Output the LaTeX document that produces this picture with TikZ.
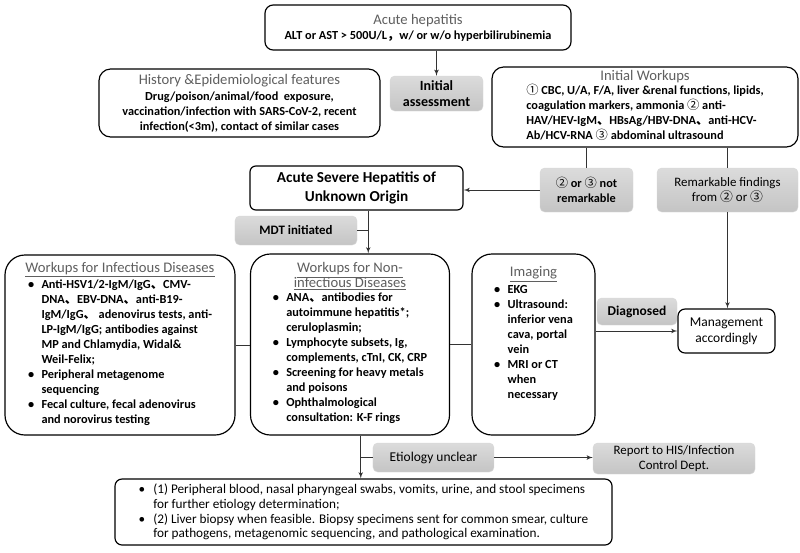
\documentclass[tikz,border=0pt]{standalone}
\usepackage{fontspec}
\setmainfont{Carlito}
\newfontfamily\cjkfont{Noto Sans CJK SC}
\usepackage{xcolor}
\usepackage{tikz}
\usetikzlibrary{shapes,arrows,positioning,calc}

\definecolor{titlegray}{HTML}{5F5F5F}
\newcommand{\titlefont}{\fontsize{12.5}{15}\selectfont\mdseries\color{titlegray}}
\newcommand{\bodyfont}{\fontsize{10.5}{12.8}\selectfont\bfseries}
\newcommand{\dun}{{\cjkfont 、}}
\newcommand{\fwc}{{\cjkfont ，}}
\newcommand{\cone}{{\cjkfont\mdseries ①}}
\newcommand{\ctwo}{{\cjkfont\mdseries ②}}
\newcommand{\cthree}{{\cjkfont\mdseries ③}}
\newcommand{\bitem}{\makebox[1.1em][l]{\textbullet}}
\newcommand{\bcont}{\hspace*{1.1em}}

\begin{document}
\begin{tikzpicture}[auto, x=0.03cm, y=-0.03cm, >=latex']
\tikzset{
frame/.style    = {draw, shape=rectangle, line width=1pt, rounded corners=7pt, fill=white, align=center, inner sep=2pt, font=\bodyfont},
panel/.style    = {frame, rounded corners=17pt},
grey/.style     = {shape=rectangle, rounded corners=4pt, draw=black!15, top color=black!14, bottom color=black!23, align=center, inner sep=2pt, font=\bodyfont},
line/.style     = {draw=black!80, line width=0.8pt},
coord/.style    = {coordinate},
}
    \useasboundingbox (0,0) rectangle (800,553);

    % Top nodes
    \node [frame, minimum width=9.18cm, minimum height=1.35cm] (acute_hep) at (418, 27.5)
        {{\titlefont Acute hepatitis}\\ ALT or AST > 500U/L\fwc w/ or w/o hyperbilirubinemia};
    \node [grey, minimum width=2.79cm, minimum height=1.05cm, font=\fontsize{12}{14}\selectfont\bfseries] (init_assess) at (436.5, 93.5) {Initial\\assessment};
    \node [frame, rounded corners=10pt, minimum width=8.43cm, minimum height=2.04cm] (history) at (239.5, 103)
        {{\titlefont History \&Epidemiological features}\\[1pt]
         Drug/poison/animal/food\ \ exposure,\\
         vaccination/infection with SARS-CoV-2, recent\\
         infection(<3m), contact of similar cases};
    \node [frame, rounded corners=10pt, minimum width=9.18cm, minimum height=2.4cm] (init_work) at (645, 107)
        {{\titlefont Initial Workups}\\
         \begin{tabular}{@{}l@{}}
         \cone\ CBC, U/A, F/A, liver \&renal functions, lipids,\\
         coagulation markers, ammonia \ctwo\ anti-\\
         HAV/HEV-IgM\dun HBsAg/HBV-DNA\dun anti-HCV-\\
         Ab/HCV-RNA \cthree\ abdominal ultrasound
         \end{tabular}};

    % Top edges
    \draw [line, ->] (init_assess.north |- acute_hep.south) -- (init_assess.north);

    % Triage nodes
    \node [grey, minimum width=2.79cm, minimum height=1.32cm] (not_remark) at (586.5, 190) {\ctwo\ or \cthree\ not\\remarkable};
    \node [grey, minimum width=4.23cm, minimum height=1.32cm, font=\fontsize{11}{13}\selectfont] (remark) at (727.5, 190) {Remarkable findings\\from \ctwo\ or \cthree};
    \node [frame, rounded corners=5pt, minimum width=6.39cm, minimum height=1.32cm, font=\fontsize{13}{15.5}\selectfont\bfseries] (acute_severe) at (356.5, 188)
        {Acute Severe Hepatitis of\\Unknown Origin};
    \node [grey, minimum width=3.66cm, minimum height=0.87cm, font=\fontsize{11}{13}\selectfont\bfseries] (mdt) at (296, 230.5) {MDT initiated};
    \node [coord] (mdt_tee) at ($(mdt.east)+(11,0)$) {};

    % Triage edges
    \draw [line] (not_remark.north |- init_work.south) -- (not_remark.north);
    \draw [line] (remark.north |- init_work.south) -- (remark.north);
    \draw [line, ->] (not_remark.west) -- (not_remark.west -| acute_severe.east);
    \draw [line] (mdt.east) -- (mdt_tee);

    % Workup nodes
    \node [panel, minimum width=6.9cm, minimum height=5.4cm] (infectious) at (120, 345)
        {{\titlefont\underline{Workups for Infectious Diseases}}\\
         \begin{tabular}{@{}l@{}}
         \bitem Anti-HSV1/2-IgM/IgG\dun CMV-\\
         \bcont DNA\dun EBV-DNA\dun anti-B19-\\
         \bcont IgM/IgG\dun\ adenovirus tests, anti-\\
         \bcont LP-IgM/IgG; antibodies against\\
         \bcont MP and Chlamydia, Widal\&\\
         \bcont Weil-Felix;\\
         \bitem Peripheral metagenome\\
         \bcont sequencing\\
         \bitem Fecal culture, fecal adenovirus\\
         \bcont and norovirus testing
         \end{tabular}};
    \node [panel, minimum width=5.97cm, minimum height=5.43cm] (noninf) at (350, 344.5)
        {{\titlefont\underline{Workups for Non-}}\\
         {\titlefont\underline{infectious Diseases}}\\
         \begin{tabular}{@{}l@{}}
         \bitem ANA\dun antibodies for\\
         \bcont autoimmune hepatitis*;\\
         \bcont ceruloplasmin;\\
         \bitem Lymphocyte subsets, Ig,\\
         \bcont complements, cTnI, CK, CRP\\
         \bitem Screening for heavy metals\\
         \bcont and poisons\\
         \bitem Ophthalmological\\
         \bcont consultation: K-F rings
         \end{tabular}};
    \node [panel, minimum width=3.69cm, minimum height=5.43cm] (imaging) at (533.5, 344.5)
        {{\titlefont\underline{Imaging}}\\
         \begin{tabular}{@{}l@{}}
         \bitem EKG\\
         \bitem Ultrasound:\\
         \bcont inferior vena\\
         \bcont cava, portal\\
         \bcont vein\\
         \bitem MRI or CT\\
         \bcont when\\
         \bcont necessary
         \end{tabular}\\[16pt]};

    % Workup edges
    \draw [line, ->] (mdt_tee |- acute_severe.south) -- (mdt_tee |- noninf.north);
    \draw [line] (infectious.east) -- (infectious.east -| noninf.west);
    \draw [line] (noninf.east) -- (noninf.east -| imaging.west);

    % Outcome nodes
    \node [grey, minimum width=2.4cm, minimum height=0.81cm, font=\fontsize{11.5}{13}\selectfont\bfseries] (diagnosed) at (637, 311.5) {Diagnosed};
    \node [frame, rounded corners=6pt, minimum width=2.91cm, minimum height=1.32cm, font=\fontsize{11.5}{13.5}\selectfont] (management) at (726.5, 331) {Management\\accordingly};
    \node [grey, minimum width=3.63cm, minimum height=0.87cm, font=\fontsize{11.5}{13}\selectfont] (etiology) at (433.5, 457.5) {Etiology unclear};
    \node [coord] (eti_tee) at ($(etiology.west)+(-12,0)$) {};
    \node [grey, minimum width=4.86cm, minimum height=0.93cm, font=\fontsize{11}{12.5}\selectfont] (report) at (674, 458.5) {Report to HIS/Infection\\Control Dept.};
    \node [frame, rounded corners=6pt, minimum width=14.91cm, minimum height=1.98cm, align=left, font=\fontsize{11.3}{12.6}\selectfont] (bottom_spec) at (363.5, 512)
        {\bitem (1) Peripheral blood, nasal pharyngeal swabs, vomits, urine, and stool specimens\\
         \bcont for further etiology determination;\\
         \bitem (2) Liver biopsy when feasible. Biopsy specimens sent for common smear, culture\\
         \bcont for pathogens, metagenomic sequencing, and pathological examination.};

    % Outcome edges
    \draw [line, ->] (remark.south) -- (remark.south |- management.north);
    \draw [line, ->] (imaging.east |- management.west) -- (management.west);
    \draw [line] (etiology.west) -- (eti_tee);
    \draw [line, ->] (eti_tee |- noninf.south) -- (eti_tee |- bottom_spec.north);
    \draw [line, ->] (etiology.east) -- (etiology.east -| report.west);

\end{tikzpicture}
\end{document}
